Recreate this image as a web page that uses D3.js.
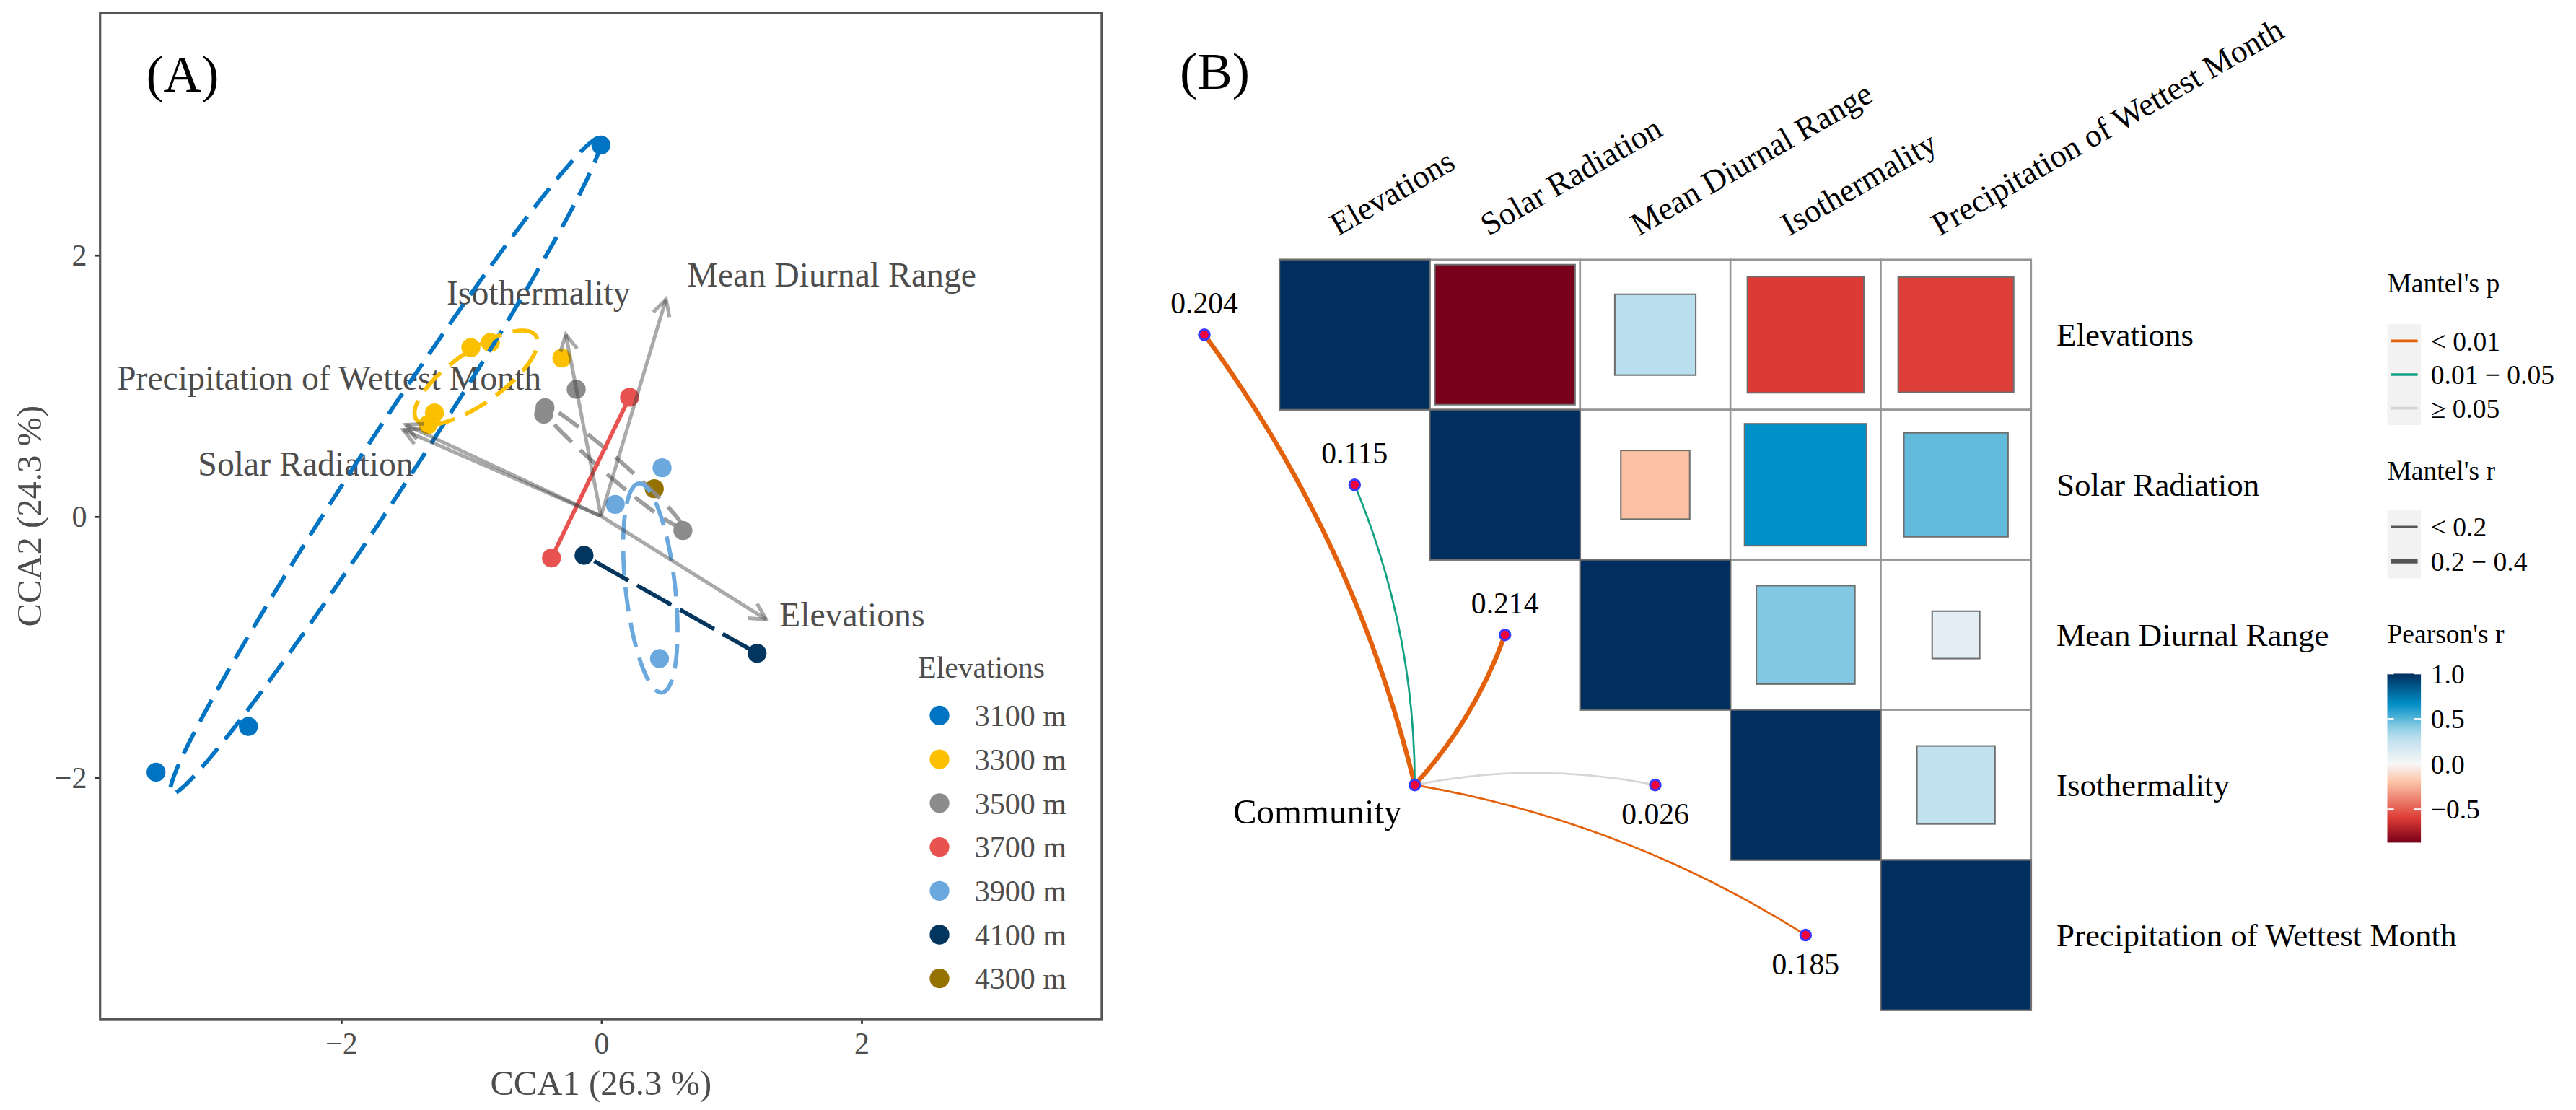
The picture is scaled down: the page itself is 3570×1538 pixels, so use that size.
<!DOCTYPE html>
<html>
<head>
<meta charset="utf-8">
<script src="https://cdn.jsdelivr.net/npm/d3@7"></script>
<style>
  body { margin: 0; background: #fff; }
  svg { display: block; }
</style>
</head>
<body>
<svg id="fig"></svg>
<script>
'use strict';

// ---------- panel A : CCA ordination ----------
const elevations = ['3100 m', '3300 m', '3500 m', '3700 m', '3900 m', '4100 m', '4300 m'];
const elevColors = ['#0074C2', '#FBC100', '#8C8C8C', '#E8524F', '#6AA8DE', '#02365F', '#957200'];

// site scores: [group, CCA1, CCA2]
const sites = [
  ['3100 m', 0.00, 2.84], ['3100 m', -2.71, -1.61], ['3100 m', -3.42, -1.96],
  ['3300 m', -1.00, 1.29], ['3300 m', -0.85, 1.33], ['3300 m', -0.30, 1.21],
  ['3300 m', -1.28, 0.79], ['3300 m', -1.33, 0.70],
  ['3500 m', -0.19, 0.97], ['3500 m', -0.43, 0.83], ['3500 m', -0.44, 0.78], ['3500 m', 0.63, -0.11],
  ['3700 m', 0.22, 0.91], ['3700 m', -0.38, -0.32],
  ['3900 m', 0.47, 0.37], ['3900 m', 0.11, 0.09], ['3900 m', 0.45, -1.09],
  ['4100 m', -0.13, -0.30], ['4100 m', 1.20, -1.05],
  ['4300 m', 0.41, 0.21]
];

// group ellipses: [group, centre CCA1, centre CCA2, semi-major, semi-minor, angle deg]
const ellipses = [
  ['3100 m', -1.655, 0.385, 3.00, 0.20, 56.7],
  ['3300 m', -0.96, 1.06, 0.56, 0.20, 35],
  ['3500 m', 0.075, 0.39, 0.72, 0.07, -40.8],
  ['3700 m', -0.08, 0.295, 0.684, 0, 64.0],
  ['3900 m', 0.38, -0.55, 0.805, 0.19, 96.4],
  ['4100 m', 0.535, -0.675, 0.763, 0, -29.4]
];

// environmental biplot arrows
const envArrowNames = ['Elevations', 'Mean Diurnal Range', 'Isothermality', 'Precipitation of Wettest Month', 'Solar Radiation'];
const envArrowCCA1 = [1.27, 0.50, -0.27, -1.50, -1.52];
const envArrowCCA2 = [-0.79, 1.66, 1.39, 0.70, 0.66];
const envLabelCCA1 = [1.93, 1.775, -0.48, -2.09, -2.27];
const envLabelCCA2 = [-0.75, 1.85, 1.71, 1.06, 0.40];

const axisTicksA = [-2, 0, 2];
const xTitleA = 'CCA1 (26.3 %)';
const yTitleA = 'CCA2 (24.3 %)';

// ---------- panel B : Mantel test + Pearson correlations ----------
const envVars = ['Elevations', 'Solar Radiation', 'Mean Diurnal Range', 'Isothermality', 'Precipitation of Wettest Month'];
const pearsonR = [
  [1, -0.87, 0.29, -0.60, -0.59],
  [null, 1, -0.21, 0.66, 0.48],
  [null, null, 1, 0.43, 0.10],
  [null, null, null, 1, 0.27],
  [null, null, null, null, 1]
];
const mantelR = [0.204, 0.115, 0.214, 0.026, 0.185];
const mantelPClass = ['< 0.01', '0.01 \u2212 0.05', '< 0.01', '\u2265 0.05', '< 0.01'];
const mantelRClass = ['0.2 \u2212 0.4', '< 0.2', '0.2 \u2212 0.4', '< 0.2', '< 0.2'];
const pLevels = ['< 0.01', '0.01 \u2212 0.05', '\u2265 0.05'];
const pColors = ['#E4610C', '#12A085', '#D6D6D6'];
const rLevels = ['< 0.2', '0.2 \u2212 0.4'];
const rWidths = [1.2, 2.8];
const communityCell = [0.4, 3];   // column / row position in grid units
const pearsonTicks = [1.0, 0.5, 0.0, -0.5];
const pearsonRange = [-0.87, 1];
const pearsonStops = [-1, -0.87, -0.6, -0.2, 0, 0.27, 0.43, 0.48, 0.66, 1];
const pearsonColors = ['#67001F', '#78001A', '#DC3B35', '#FDC3A7', '#F7F7F7',
                       '#C1E1EE', '#83C8E2', '#62BBDB', '#0090C8', '#002E5E'];

// ---------- drawing ----------
const W = 1570, H = 676.37;
const serif = "'Times New Roman', 'Liberation Serif', serif";
const svg = d3.select('#fig')
  .attr('width', 3570).attr('height', 1538)
  .attr('viewBox', `0 0 ${W} ${H}`)
  .attr('font-family', serif);

svg.append('rect').attr('width', W).attr('height', H).attr('fill', '#fff');

/* ===== Panel A ===== */
const frameA = { left: 61, right: 671.5, top: 8, bottom: 621 };
const xA = d3.scaleLinear().domain([-3.85, 3.85]).range([frameA.left, frameA.right]);
const yA = d3.scaleLinear().domain([-3.85, 3.85]).range([frameA.bottom, frameA.top]);
const colorA = d3.scaleOrdinal().domain(elevations).range(elevColors);
const gA = svg.append('g').attr('font-family', serif);

// axes
const xAxisA = gA.append('g')
  .attr('transform', `translate(0,${frameA.bottom})`)
  .call(d3.axisBottom(xA).tickValues(axisTicksA).tickSize(3).tickPadding(5));
const yAxisA = gA.append('g')
  .attr('transform', `translate(${frameA.left},0)`)
  .call(d3.axisLeft(yA).tickValues(axisTicksA).tickSize(3).tickPadding(5));
[xAxisA, yAxisA].forEach(ax => {
  ax.attr('font-family', serif);
  ax.select('.domain').remove();
  ax.selectAll('line').attr('stroke', '#333').attr('stroke-width', 1.2);
  ax.selectAll('text').attr('font-family', serif).attr('font-size', 18.5).attr('fill', '#4d4d4d');
});

gA.append('text')
  .attr('x', (frameA.left + frameA.right) / 2).attr('y', 667)
  .attr('text-anchor', 'middle').attr('font-size', 21.4).attr('fill', '#4d4d4d')
  .text(xTitleA);
gA.append('text')
  .attr('transform', `translate(25,${(frameA.top + frameA.bottom) / 2}) rotate(-90)`)
  .attr('text-anchor', 'middle').attr('font-size', 21.4).attr('fill', '#4d4d4d')
  .text(yTitleA);

// arrow labels (drawn underneath)
gA.append('g').selectAll('text')
  .data(envArrowNames)
  .enter().append('text')
  .attr('x', (d, i) => xA(envLabelCCA1[i]))
  .attr('y', (d, i) => yA(envLabelCCA2[i]))
  .attr('dy', '0.35em')
  .attr('text-anchor', 'middle')
  .attr('font-size', 21)
  .attr('fill', '#4d4d4d')
  .text(d => d);

// points
gA.append('g').selectAll('circle')
  .data(sites)
  .enter().append('circle')
  .attr('cx', d => xA(d[1]))
  .attr('cy', d => yA(d[2]))
  .attr('r', 5.8)
  .attr('fill', d => colorA(d[0]));

// ellipses (degenerate ones, with only two sites, collapse to a segment)
const ellipseDash = { '3700 m': null, '4100 m': '24 6' };
const lineA = d3.line().x(p => xA(p[0])).y(p => yA(p[1]));
function ellipseOutline(e) {
  const t = e[5] * Math.PI / 180;
  const sweep = e[4] === 0 ? 180 : 360;
  return d3.range(0, sweep + 1, 2).map(k => {
    const u = k * Math.PI / 180;
    return [
      e[1] + e[3] * Math.cos(u) * Math.cos(t) - e[4] * Math.sin(u) * Math.sin(t),
      e[2] + e[3] * Math.cos(u) * Math.sin(t) + e[4] * Math.sin(u) * Math.cos(t)
    ];
  });
}
gA.append('g').selectAll('path')
  .data(ellipses)
  .enter().append('path')
  .attr('d', e => lineA(ellipseOutline(e)))
  .attr('fill', 'none')
  .attr('stroke', e => colorA(e[0]))
  .attr('stroke-opacity', e => e[0] === '3500 m' ? 0.85 : 1)
  .attr('stroke-width', 2.5)
  .attr('stroke-dasharray', e => (e[0] in ellipseDash) ? ellipseDash[e[0]] : '15 7');

// biplot arrows
const arrows = gA.append('g')
  .attr('stroke', '#404040').attr('stroke-opacity', 0.45)
  .attr('stroke-width', 2.2).attr('fill', 'none').attr('stroke-linecap', 'butt');
envArrowNames.forEach((name, i) => {
  const x0 = xA(0), y0 = yA(0);
  const x1 = xA(envArrowCCA1[i]), y1 = yA(envArrowCCA2[i]);
  const ang = Math.atan2(y1 - y0, x1 - x0);
  const head = 11, spread = 28 * Math.PI / 180;
  arrows.append('path')
    .attr('d', `M${x0},${y0}L${x1},${y1}`);
  arrows.append('path')
    .attr('d', `M${x1 - head * Math.cos(ang - spread)},${y1 - head * Math.sin(ang - spread)}` +
               `L${x1},${y1}` +
               `L${x1 - head * Math.cos(ang + spread)},${y1 - head * Math.sin(ang + spread)}`);
});

// legend
const legA = gA.append('g');
legA.append('text').attr('x', 559.5).attr('y', 413)
  .attr('font-size', 18.3).attr('fill', '#4d4d4d').text('Elevations');
const legItems = legA.selectAll('g.item')
  .data(elevations)
  .enter().append('g')
  .attr('class', 'item')
  .attr('transform', (d, i) => `translate(0,${436 + i * 26.7})`);
legItems.append('circle').attr('cx', 572.6).attr('cy', 0).attr('r', 6).attr('fill', d => colorA(d));
legItems.append('text').attr('x', 594).attr('y', 0).attr('dy', '0.35em')
  .attr('font-size', 18.5).attr('fill', '#4d4d4d').text(d => d);

// frame + tag
gA.append('rect')
  .attr('x', frameA.left).attr('y', frameA.top)
  .attr('width', frameA.right - frameA.left).attr('height', frameA.bottom - frameA.top)
  .attr('fill', 'none').attr('stroke', '#555').attr('stroke-width', 1.4);
gA.append('text').attr('x', 89).attr('y', 56).attr('font-size', 32).attr('fill', '#000').text('(A)');

/* ===== Panel B ===== */
const gB = svg.append('g').attr('font-family', serif);
const gridB = { left: 779.8, right: 1237.9, top: 158.2, bottom: 615.5 };
const xB = d3.scaleBand().domain(envVars).range([gridB.left, gridB.right]);
const yB = d3.scaleBand().domain(envVars).range([gridB.top, gridB.bottom]);
const colIdx = d3.scaleLinear().domain([0, envVars.length]).range([gridB.left, gridB.right]);
const rowIdx = d3.scaleLinear().domain([0, envVars.length]).range([gridB.top, gridB.bottom]);
const bw = xB.bandwidth(), bh = yB.bandwidth();
const fillB = d3.scaleLinear().domain(pearsonStops).range(pearsonColors).interpolate(d3.interpolateRgb).clamp(true);
const pColor = d3.scaleOrdinal().domain(pLevels).range(pColors);
const rWidth = d3.scaleOrdinal().domain(rLevels).range(rWidths);

gB.append('text').attr('x', 719).attr('y', 54).attr('font-size', 32).attr('fill', '#000').text('(B)');

// correlation cells (upper triangle incl. diagonal)
const cells = [];
pearsonR.forEach((row, i) => row.forEach((r, j) => { if (r !== null) cells.push({ i, j, r }); }));

gB.append('g').selectAll('rect')
  .data(cells)
  .enter().append('rect')
  .attr('x', d => xB(envVars[d.j]))
  .attr('y', d => yB(envVars[d.i]))
  .attr('width', bw).attr('height', bh)
  .attr('fill', '#fff').attr('stroke', '#959595').attr('stroke-width', 1.1);

gB.append('g').selectAll('rect')
  .data(cells)
  .enter().append('rect')
  .attr('x', d => xB(envVars[d.j]) + (bw - bw * Math.sqrt(Math.abs(d.r))) / 2)
  .attr('y', d => yB(envVars[d.i]) + (bh - bh * Math.sqrt(Math.abs(d.r))) / 2)
  .attr('width', d => bw * Math.sqrt(Math.abs(d.r)))
  .attr('height', d => bh * Math.sqrt(Math.abs(d.r)))
  .attr('fill', d => fillB(d.r))
  .attr('stroke', '#6e6e6e').attr('stroke-width', 0.9);

// column labels (rotated)
gB.append('g').selectAll('text')
  .data(envVars)
  .enter().append('text')
  .attr('transform', d => `translate(${xB(d) + bw / 2 - 10},144) rotate(-30)`)
  .attr('font-size', 19.8).attr('fill', '#000')
  .text(d => d);

// row labels
gB.append('g').selectAll('text')
  .data(envVars)
  .enter().append('text')
  .attr('x', gridB.right + 15.5)
  .attr('y', d => yB(d) + bh / 2)
  .attr('dy', '0.35em')
  .attr('font-size', 19.8).attr('fill', '#000')
  .text(d => d);

// Mantel links
const comX = colIdx(communityCell[0] + 0.5), comY = rowIdx(communityCell[1] + 0.5);
const links = envVars.map((v, i) => ({
  name: v,
  x: colIdx(i - 0.5),
  y: rowIdx(i + 0.5),
  r: mantelR[i],
  p: mantelPClass[i],
  rc: mantelRClass[i],
  above: i < communityCell[1]
}));

function curvePath(d) {
  const dx = d.x - comX, dy = d.y - comY;
  const L = Math.hypot(dx, dy);
  const side = d.above ? 1 : -1;
  const off = 0.1 * L * side;
  const cx = (comX + d.x) / 2 + (-dy / L) * off;
  const cy = (comY + d.y) / 2 + (dx / L) * off;
  return `M${comX},${comY}Q${cx},${cy} ${d.x},${d.y}`;
}

gB.append('g').selectAll('path')
  .data(links)
  .enter().append('path')
  .attr('d', curvePath)
  .attr('fill', 'none')
  .attr('stroke', d => pColor(d.p))
  .attr('stroke-width', d => rWidth(d.rc));

gB.append('g').selectAll('circle')
  .data(links.concat([{ x: comX, y: comY }]))
  .enter().append('circle')
  .attr('cx', d => d.x).attr('cy', d => d.y).attr('r', 3.2)
  .attr('fill', '#F0003C').attr('stroke', '#3A3AFF').attr('stroke-width', 1.3);

gB.append('g').selectAll('text')
  .data(links)
  .enter().append('text')
  .attr('x', d => d.x)
  .attr('y', d => d.above ? d.y - 13 : d.y + 24)
  .attr('text-anchor', 'middle')
  .attr('font-size', 18.3).attr('fill', '#000')
  .text(d => d3.format('.3f')(d.r));

gB.append('text')
  .attr('x', comX - 8).attr('y', comY + 23.5)
  .attr('text-anchor', 'end')
  .attr('font-size', 21.5).attr('fill', '#000')
  .text('Community');

// legends
const legX = 1455, keyW = 20.5, labX = 1481.5;
const legB = gB.append('g').attr('font-family', serif).attr('font-size', 16.5).attr('fill', '#000');

legB.append('text').attr('x', legX).attr('y', 178).text("Mantel's p");
legB.append('rect').attr('x', legX).attr('y', 197.5).attr('width', keyW).attr('height', 61.5).attr('fill', '#f2f2f2');
pLevels.forEach((lv, k) => {
  const cy = 207.75 + k * 20.5;
  legB.append('line').attr('x1', legX + 2).attr('x2', legX + keyW - 2).attr('y1', cy).attr('y2', cy)
    .attr('stroke', pColor(lv)).attr('stroke-width', 1.6);
  legB.append('text').attr('x', labX).attr('y', cy).attr('dy', '0.35em').text(lv);
});

legB.append('text').attr('x', legX).attr('y', 292.5).text("Mantel's r");
legB.append('rect').attr('x', legX).attr('y', 310.5).attr('width', keyW).attr('height', 42).attr('fill', '#f2f2f2');
rLevels.forEach((lv, k) => {
  const cy = 321 + k * 21;
  legB.append('line').attr('x1', legX + 2).attr('x2', legX + keyW - 2).attr('y1', cy).attr('y2', cy)
    .attr('stroke', '#555').attr('stroke-width', rWidth(lv));
  legB.append('text').attr('x', labX).attr('y', cy).attr('dy', '0.35em').text(lv);
});

legB.append('text').attr('x', legX).attr('y', 392).text("Pearson's r");
const barY = d3.scaleLinear().domain([1, pearsonRange[0]]).range([410.5, 513.4]);
const grad = svg.append('defs').append('linearGradient')
  .attr('id', 'pearsonGrad').attr('x1', 0).attr('x2', 0).attr('y1', 0).attr('y2', 1);
d3.range(0, 1.0001, 0.025).forEach(t => {
  const v = 1 + t * (pearsonRange[0] - 1);
  grad.append('stop').attr('offset', t).attr('stop-color', fillB(v));
});
legB.append('rect').attr('x', legX).attr('y', barY(1)).attr('width', keyW)
  .attr('height', barY(pearsonRange[0]) - barY(1)).attr('fill', 'url(#pearsonGrad)');
pearsonTicks.forEach(v => {
  legB.append('line').attr('x1', legX).attr('x2', legX + 4).attr('y1', barY(v)).attr('y2', barY(v))
    .attr('stroke', '#fff').attr('stroke-width', 0.8);
  legB.append('line').attr('x1', legX + keyW - 4).attr('x2', legX + keyW).attr('y1', barY(v)).attr('y2', barY(v))
    .attr('stroke', '#fff').attr('stroke-width', 0.8);
  legB.append('text').attr('x', labX).attr('y', barY(v)).attr('dy', '0.35em')
    .text(d3.format('.1f')(v));
});
</script>
</body>
</html>
